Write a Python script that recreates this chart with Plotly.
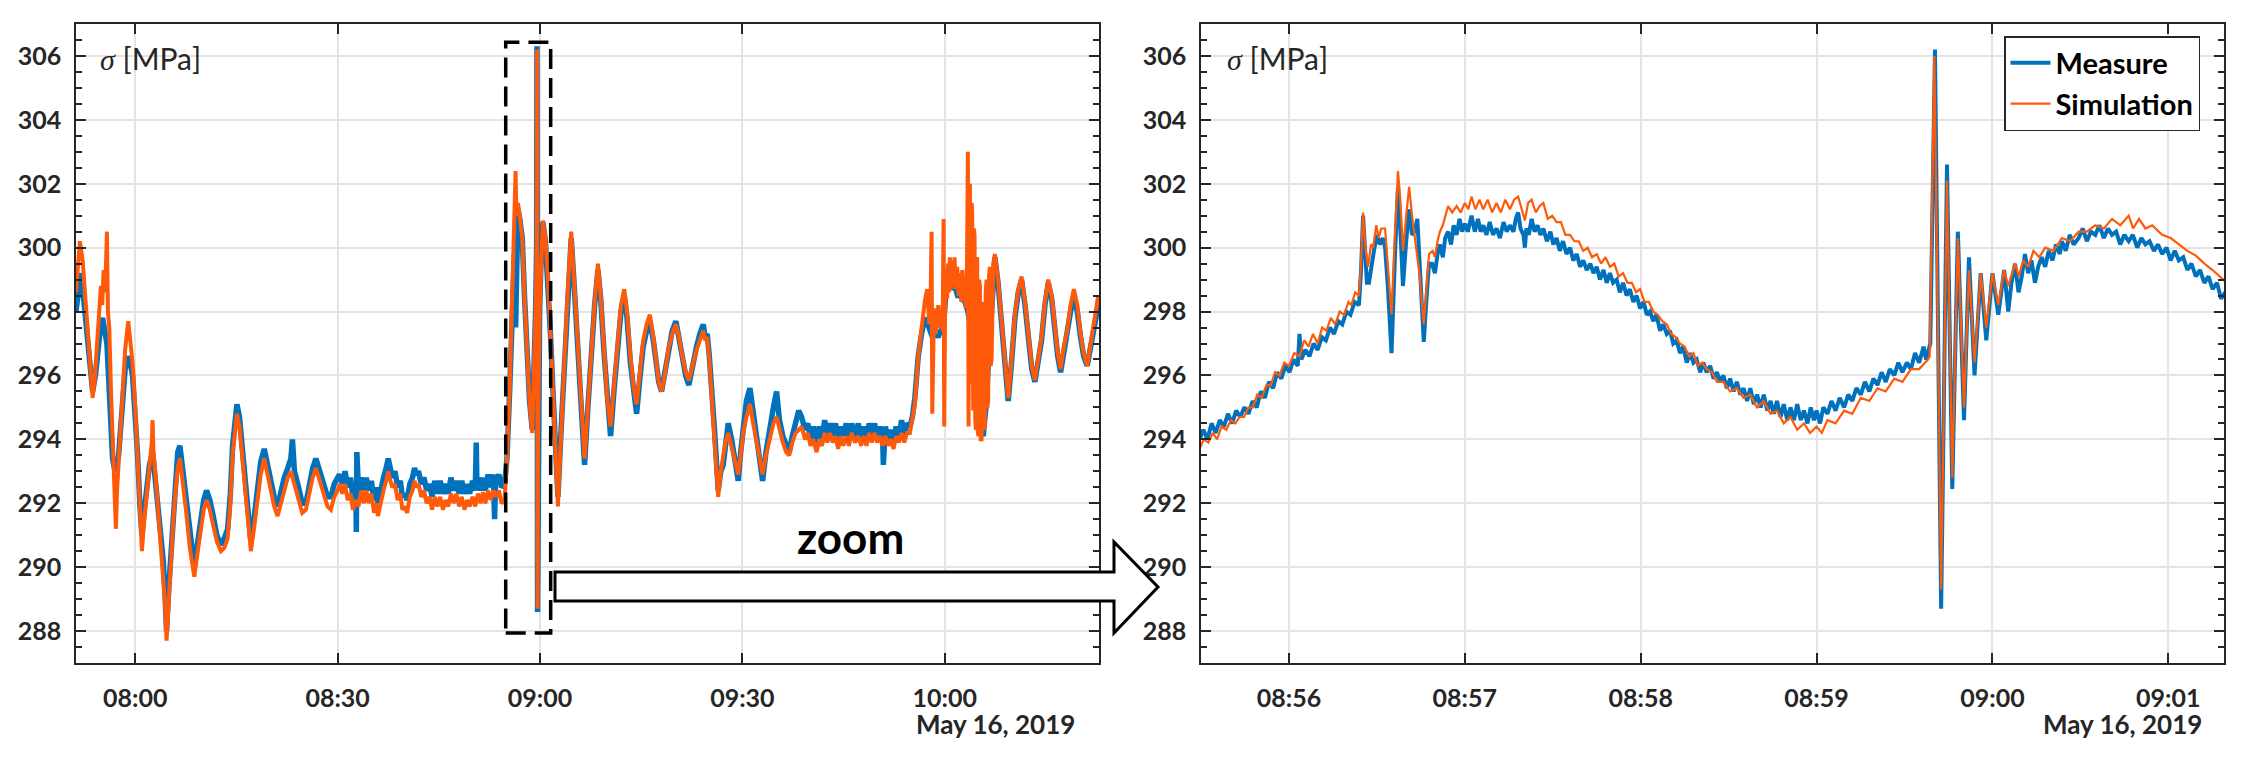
import pandas as pd
import plotly.graph_objects as go

# ---------------- data ----------------
DAY = "2019-05-16"
LEFT_BASE = "08:00:00"          # left panel offsets are minutes after this time
RIGHT_BASE = "08:56:00"         # right panel offsets are seconds after this time
LEFT_RANGE = ["07:51:13", "10:22:52"]
ZOOM_RANGE = ["08:55:30", "09:01:19"]
ZOOM_BOX = ["08:54:55", "09:01:35", 287.94, 306.43]
LEFT_TICKS = ["08:00", "08:30", "09:00", "09:30", "10:00"]
RIGHT_TICKS = ["08:56", "08:57", "08:58", "08:59", "09:00", "09:01"]
Y_RANGE = [287, 307]
Y_TICKS = [288, 290, 292, 294, 296, 298, 300, 302, 304, 306]
DATE_LABEL = "May 16, 2019"
SERIES_NAMES = ["Measure", "Simulation"]

# Left panel, Simulation: (minutes after 08:00, MPa)
left_sim = [
    (-8.8, 298.6), (-8.5, 299.6), (-8.2, 300.2), (-7.8, 299.6), (-7.4, 298.4), (-7.07, 297.5), (-6.7, 296.2),
    (-6.32, 295.3), (-6.0, 295.9), (-5.73, 296.8), (-5.4, 298.2), (-5.09, 298.8), (-4.9, 298.2), (-4.69, 299.3),
    (-4.45, 298.6), (-4.2, 300.5), (-4.05, 298.0), (-3.85, 297.5), (-3.6, 295.5), (-3.36, 294.0), (-3.1, 292.0),
    (-2.87, 291.2), (-2.7, 292.4), (-2.47, 293.3), (-2.2, 294.4), (-1.88, 295.5), (-1.5, 296.8), (-1.04, 297.7),
    (-0.75, 297.2), (-0.4, 296.4), (0.0, 295.0), (0.35, 293.5), (0.7, 291.6), (0.99, 290.5), (1.3, 291.4),
    (1.68, 292.2), (2.1, 293.2), (2.45, 293.9), (2.57, 294.6), (2.7, 293.6), (2.96, 293.0), (3.25, 292.2),
    (3.56, 291.4), (3.85, 290.6), (4.15, 289.8), (4.4, 288.9), (4.64, 287.7), (4.95, 289.0), (5.29, 290.2),
    (5.65, 291.5), (6.03, 292.5), (6.3, 293.1), (6.62, 293.4), (7.0, 292.8), (7.51, 291.8), (8.1, 290.6),
    (8.75, 289.7), (9.2, 290.4), (9.73, 291.2), (10.15, 291.8), (10.57, 292.1), (11.05, 291.8), (11.56, 291.3),
    (12.1, 290.8), (12.7, 290.5), (13.2, 290.6), (13.7, 290.9), (14.1, 292.0), (14.43, 293.5), (14.75, 294.3),
    (15.07, 294.8), (15.45, 294.4), (15.91, 293.4), (16.5, 291.8), (17.14, 290.5), (17.6, 291.2), (18.13, 292.2),
    (18.6, 292.9), (19.12, 293.4), (19.6, 292.9), (20.11, 292.4), (20.6, 291.9), (21.1, 291.6), (21.6, 292.0),
    (22.08, 292.5), (22.6, 292.8), (23.07, 293.0), (23.6, 292.6), (24.21, 292.1), (24.75, 291.7), (25.3, 291.8),
    (25.8, 292.3), (26.3, 292.8), (26.78, 293.1), (27.4, 292.7), (28.01, 292.3), (28.5, 291.9), (29.0, 291.8),
    (29.5, 292.2), (30.0, 292.4), (30.3, 292.6),
    (30.7, 292.3), (31.1, 292.6), (31.5, 292.1), (31.9, 292.3), (32.27, 291.8), (32.7, 292.1), (33.1, 291.9),
    (33.5, 292.4), (33.9, 292.0), (34.25, 292.4), (34.6, 292.0), (35.0, 292.3), (35.4, 291.7), (35.7, 292.0),
    (35.98, 291.6), (36.4, 292.1), (36.8, 292.4), (37.2, 292.7), (37.5, 293.0), (37.7, 292.8), (38.1, 292.5),
    (38.5, 292.6), (38.9, 292.1), (39.3, 292.3), (39.6, 291.8), (39.93, 291.9), (40.3, 291.7), (40.7, 292.2),
    (41.1, 292.4), (41.4, 292.7), (41.66, 292.5), (42.0, 292.6), (42.4, 292.2), (42.8, 292.4), (43.2, 292.0),
    (43.64, 292.2), (44.0, 291.8), (44.4, 292.2), (44.8, 291.9), (45.2, 292.2), (45.61, 291.8), (46.0, 292.1),
    (46.4, 291.9), (46.8, 292.3), (47.2, 292.0), (47.59, 292.3), (48.0, 291.9), (48.4, 292.2), (48.8, 291.8),
    (49.2, 292.1), (49.57, 291.9), (50.0, 292.2), (50.4, 291.9), (50.8, 292.3), (51.2, 292.0), (51.54, 292.35),
    (51.9, 292.0), (52.3, 292.4), (52.7, 292.1), (53.1, 292.4), (53.52, 292.2), (53.9, 292.4), (54.3, 292.0),
    (54.75, 292.1),
    (55.1, 293.4), (55.5, 295.5), (55.99, 299.8), (56.2, 301.0), (56.38, 302.4), (56.5, 301.0), (56.73, 301.4),
    (57.0, 301.0), (57.37, 300.3), (57.7, 298.5), (58.06, 296.7), (58.45, 295.2), (58.85, 294.2), (59.1, 295.8),
    (59.35, 298.0), (59.5, 300.0), (59.55, 306.2), (59.6, 297.0), (59.64, 288.7), (59.7, 294.0), (59.94, 298.0),
    (60.2, 300.0), (60.43, 300.85), (60.8, 300.3), (61.18, 299.05), (61.55, 297.3), (61.92, 295.5), (62.3, 293.5),
    (62.66, 291.9), (63.15, 294.3), (63.65, 296.7), (64.15, 298.8), (64.63, 300.5), (65.1, 298.8), (65.62, 296.7),
    (66.1, 294.8), (66.61, 293.4), (67.1, 295.0), (67.6, 296.7), (68.1, 298.3), (68.59, 299.5), (69.0, 298.5),
    (69.5, 296.8), (70.0, 295.2), (70.46, 294.4), (71.0, 295.8), (71.5, 297.2), (72.0, 298.2), (72.49, 298.7),
    (72.9, 298.0), (73.4, 296.6), (73.9, 295.6), (74.32, 295.1), (74.8, 296.2), (75.3, 297.1), (75.8, 297.6),
    (76.29, 297.9), (76.8, 297.2), (77.28, 296.4), (77.6, 295.8), (78.02, 295.5), (78.5, 296.0), (79.01, 296.8),
    (79.6, 297.3), (80.15, 297.6), (80.6, 297.2), (81.1, 296.6), (81.6, 296.1), (82.07, 295.85), (82.6, 296.3),
    (83.21, 296.8), (83.7, 297.1), (84.2, 297.4), (84.5, 297.1), (84.79, 297.2), (85.1, 296.5), (85.43, 295.5),
    (85.9, 294.0), (86.42, 292.2), (86.8, 293.0), (87.16, 293.5), (87.5, 293.9), (87.9, 294.2), (88.4, 293.8),
    (88.9, 293.3), (89.39, 292.9), (89.75, 293.5), (90.13, 294.2), (90.6, 294.7), (91.12, 295.1), (91.6, 294.5),
    (92.11, 293.9), (92.55, 293.3), (93.0, 292.9), (93.5, 293.5), (94.08, 294.1), (94.6, 294.5), (95.07, 294.7),
    (95.5, 294.3), (96.0, 293.9), (96.5, 293.6), (96.95, 293.5), (97.4, 293.9), (97.9, 294.2), (98.35, 294.3),
    (98.78, 294.4), (99.3, 294.0),
    (99.7, 294.2), (100.1, 293.8), (100.5, 294.0), (101.0, 293.6), (101.4, 294.0), (101.8, 293.8), (102.2, 294.2),
    (102.6, 293.9), (102.98, 294.2), (103.4, 293.9), (103.8, 294.1), (104.2, 293.7), (104.6, 294.1), (104.95, 293.8),
    (105.4, 294.1), (105.8, 293.8), (106.2, 294.2), (106.7, 293.9), (107.18, 294.1), (107.6, 293.8), (108.0, 294.1),
    (108.4, 293.8), (108.8, 294.2), (109.2, 293.9), (109.6, 294.2), (110.0, 293.9), (110.4, 294.1), (110.8, 293.8),
    (111.2, 294.1), (111.6, 293.8), (112.0, 294.0), (112.4, 293.7), (112.8, 294.1), (113.2, 293.9), (113.6, 294.2),
    (114.0, 293.9), (114.4, 294.2), (114.83, 294.2),
    (115.2, 294.6), (115.57, 295.1), (116.07, 296.6), (116.56, 297.6), (117.06, 298.35), (117.4, 298.7),
    (117.7, 297.6), (117.9, 298.4), (118.05, 300.5), (118.15, 294.8), (118.25, 297.8), (118.4, 298.1),
    (118.6, 297.3), (118.8, 297.6), (119.05, 298.2), (119.3, 297.5), (119.5, 298.0), (119.68, 297.4),
    (119.83, 300.9), (119.92, 294.4), (120.05, 298.0), (120.17, 299.3), (120.35, 298.4), (120.5, 299.5),
    (120.65, 298.6), (120.76, 299.7), (120.95, 298.7), (121.1, 299.6), (121.26, 298.8), (121.45, 299.7),
    (121.65, 298.7), (121.85, 299.4), (122.05, 298.5), (122.24, 299.2), (122.45, 298.3), (122.6, 299.3),
    (122.74, 298.6), (122.95, 299.0), (123.13, 298.1), (123.3, 299.5), (123.43, 303.0), (123.53, 294.4),
    (123.63, 301.5), (123.73, 302.0), (123.88, 295.75), (124.0, 301.4), (124.07, 301.0), (124.22, 294.9),
    (124.32, 300.6), (124.42, 300.4), (124.52, 294.6), (124.62, 294.3), (124.72, 299.6), (124.81, 299.7),
    (124.91, 294.2), (125.01, 294.1), (125.11, 299.0), (125.21, 298.8), (125.33, 294.0), (125.46, 294.0),
    (125.58, 298.3), (125.7, 298.2), (125.82, 294.3), (125.95, 294.4), (126.07, 298.6), (126.2, 299.0),
    (126.32, 295.0), (126.44, 295.2), (126.56, 299.1), (126.69, 299.4), (126.8, 296.3), (126.94, 296.5),
    (127.2, 299.5), (127.43, 299.8), (127.9, 299.0), (128.42, 297.8), (128.9, 296.4), (129.41, 295.3),
    (129.9, 296.5), (130.4, 297.9), (130.9, 298.7), (131.39, 299.1), (131.9, 298.3), (132.37, 297.2),
    (132.9, 296.3), (133.36, 295.85), (133.85, 296.5), (134.35, 297.2), (134.85, 298.3), (135.34, 299.0),
    (135.85, 298.5), (136.33, 297.4), (136.75, 296.7), (137.17, 296.2), (137.65, 296.9), (138.16, 297.4),
    (138.65, 298.2), (139.14, 298.7), (139.65, 298.2), (140.13, 297.3), (140.6, 296.7), (141.12, 296.3),
    (141.55, 296.9), (142.01, 297.5), (142.4, 298.1), (142.75, 298.5), (142.9, 298.4),
]

# Left panel, Measure: (minutes after 08:00, MPa)
left_meas = [
    (-8.8, 298.0), (-8.4, 298.8), (-8.05, 299.2), (-7.6, 298.3), (-7.07, 297.0), (-6.7, 296.0), (-6.32, 295.5),
    (-5.9, 296.0), (-5.5, 297.0), (-5.1, 297.6), (-4.84, 297.8), (-4.5, 297.3), (-4.2, 297.0), (-3.85, 295.5),
    (-3.6, 294.2), (-3.36, 293.4), (-3.1, 293.1), (-2.87, 293.0), (-2.47, 293.5), (-2.2, 294.4), (-1.88, 295.3),
    (-1.5, 296.2), (-1.04, 296.6), (-0.75, 296.4), (-0.4, 296.0), (0.0, 294.9), (0.35, 293.5), (0.7, 291.9),
    (0.99, 291.0), (1.3, 291.7), (1.68, 292.5), (2.1, 293.2), (2.57, 293.6), (2.96, 292.8), (3.25, 292.2),
    (3.56, 291.6), (3.85, 290.9), (4.15, 290.2), (4.4, 289.2), (4.64, 288.0), (4.95, 289.3), (5.29, 290.5),
    (5.65, 291.8), (6.03, 293.0), (6.3, 293.6), (6.62, 293.8), (7.0, 293.1), (7.51, 292.0), (8.1, 290.9),
    (8.75, 290.0), (9.2, 290.7), (9.73, 291.6), (10.15, 292.1), (10.57, 292.4), (11.05, 292.1), (11.56, 291.6),
    (12.1, 291.0), (12.7, 290.7), (13.2, 290.9), (13.7, 291.2), (14.1, 292.3), (14.43, 293.8), (14.75, 294.7),
    (15.07, 295.1), (15.45, 294.7), (15.91, 293.7), (16.5, 292.1), (17.14, 290.8), (17.6, 291.5), (18.13, 292.5),
    (18.6, 293.3), (19.12, 293.7), (19.6, 293.2), (20.11, 292.7), (20.6, 292.2), (21.1, 291.9), (21.6, 292.4),
    (22.08, 292.8), (22.6, 293.1), (23.07, 293.4), (23.3, 294.0), (23.6, 293.0), (24.21, 292.5), (24.75, 292.0),
    (25.3, 292.0), (25.8, 292.6), (26.3, 293.1), (26.78, 293.4), (27.4, 293.0), (28.01, 292.6), (28.5, 292.2),
    (29.0, 292.2), (29.5, 292.6), (30.0, 292.8), (30.3, 292.9),
    (30.7, 292.6), (31.1, 293.0), (31.5, 292.5), (31.9, 292.8), (32.27, 292.2), (32.7, 292.5), (32.77, 291.1),
    (32.85, 293.6), (33.1, 292.4), (33.5, 292.8), (33.9, 292.4), (34.25, 292.8), (34.6, 292.4), (35.0, 292.7),
    (35.4, 292.1), (35.7, 292.5), (35.98, 292.0), (36.4, 292.5), (36.8, 292.8), (37.2, 293.1), (37.5, 293.4),
    (37.7, 293.2), (38.1, 292.8), (38.5, 293.0), (38.9, 292.5), (39.3, 292.7), (39.6, 292.2), (39.93, 292.3),
    (40.3, 292.1), (40.7, 292.6), (41.1, 292.8), (41.4, 293.1), (41.66, 292.9), (42.0, 293.0), (42.4, 292.6),
    (42.8, 292.8), (43.2, 292.4), (43.64, 292.6), (44.0, 292.2), (44.4, 292.7), (44.8, 292.3), (45.2, 292.7),
    (45.61, 292.3), (46.0, 292.6), (46.4, 292.3), (46.8, 292.8), (47.2, 292.4), (47.59, 292.7), (48.0, 292.3),
    (48.4, 292.7), (48.8, 292.3), (49.2, 292.6), (49.57, 292.3), (50.0, 292.7), (50.4, 292.4), (50.55, 293.9),
    (50.65, 292.5), (50.8, 292.8), (51.2, 292.4), (51.54, 292.8), (51.9, 292.4), (52.3, 292.9), (52.7, 292.5),
    (53.1, 292.9), (53.27, 291.5), (53.4, 292.6), (53.9, 292.9), (54.3, 292.5), (54.75, 292.6),
    (55.1, 293.4), (55.5, 295.5), (55.99, 298.5), (56.2, 299.8), (56.38, 297.5), (56.5, 300.5), (56.73, 301.2),
    (57.0, 300.9), (57.37, 300.3), (57.7, 298.5), (58.06, 296.7), (58.45, 295.2), (58.85, 294.3), (59.1, 295.8),
    (59.35, 298.0), (59.5, 300.0), (59.55, 306.3), (59.6, 297.0), (59.64, 288.6), (59.7, 294.0), (59.94, 298.0),
    (60.2, 300.0), (60.43, 300.8), (60.8, 300.2), (61.18, 299.0), (61.55, 297.3), (61.92, 295.5), (62.3, 293.6),
    (62.66, 292.2), (63.15, 294.4), (63.65, 296.7), (64.15, 298.7), (64.63, 300.3), (65.1, 298.7), (65.62, 296.7),
    (66.1, 294.7), (66.61, 293.2), (67.1, 295.0), (67.6, 296.7), (68.1, 298.2), (68.59, 299.3), (69.0, 298.4),
    (69.5, 296.7), (70.0, 295.0), (70.46, 294.1), (71.0, 295.6), (71.5, 297.0), (72.0, 298.0), (72.49, 298.5),
    (72.9, 297.8), (73.4, 296.4), (73.9, 295.3), (74.32, 294.8), (74.8, 295.9), (75.3, 296.9), (75.8, 297.4),
    (76.29, 297.7), (76.8, 297.1), (77.28, 296.4), (77.6, 295.8), (78.02, 295.5), (78.5, 296.1), (79.01, 296.9),
    (79.6, 297.4), (80.15, 297.7), (80.6, 297.2), (81.1, 296.5), (81.6, 296.0), (82.07, 295.7), (82.6, 296.3),
    (83.21, 296.9), (83.7, 297.3), (84.2, 297.6), (84.5, 297.2), (84.79, 297.3), (85.1, 296.6), (85.43, 295.7),
    (85.9, 294.2), (86.42, 292.4), (86.8, 293.0), (87.16, 293.2), (87.5, 294.0), (87.9, 294.5), (88.4, 294.0),
    (88.9, 293.2), (89.39, 292.7), (89.75, 293.6), (90.13, 294.5), (90.6, 295.2), (91.12, 295.6), (91.6, 294.8),
    (92.11, 294.1), (92.55, 293.3), (93.0, 292.7), (93.5, 293.6), (94.08, 294.5), (94.6, 295.0), (95.07, 295.5),
    (95.5, 294.6), (96.0, 294.1), (96.5, 293.8), (96.95, 293.6), (97.4, 294.1), (97.9, 294.5), (98.35, 294.9),
    (98.78, 294.7), (99.3, 294.3),
    (99.7, 294.5), (100.1, 294.0), (100.5, 294.4), (101.0, 293.9), (101.4, 294.4), (101.8, 294.0), (102.2, 294.6),
    (102.6, 294.1), (102.98, 294.5), (103.4, 294.1), (103.8, 294.5), (104.2, 294.0), (104.6, 294.4), (104.95, 294.1),
    (105.4, 294.5), (105.8, 294.0), (106.2, 294.5), (106.7, 294.1), (107.18, 294.5), (107.6, 294.0), (108.0, 294.4),
    (108.4, 294.0), (108.8, 294.5), (109.2, 294.1), (109.6, 294.5), (110.0, 294.0), (110.4, 294.4), (110.8, 294.0),
    (110.9, 293.2), (111.0, 294.1), (111.2, 294.4), (111.6, 294.0), (112.0, 294.3), (112.4, 293.9), (112.8, 294.4),
    (113.2, 294.1), (113.6, 294.6), (114.0, 294.1), (114.4, 294.5), (114.83, 294.4),
    (115.2, 294.7), (115.57, 295.3), (116.07, 296.6), (116.56, 297.3), (117.06, 297.8), (117.5, 297.6),
    (118.0, 297.3), (118.5, 297.4), (119.0, 297.2), (119.4, 297.4), (119.8, 297.5), (120.17, 298.6), (120.5, 298.9),
    (120.76, 299.0), (121.1, 298.7), (121.5, 298.8), (121.9, 298.5), (122.24, 298.5), (122.6, 298.4), (123.0, 298.3),
    (123.43, 298.0), (123.7, 297.7), (124.0, 297.0), (124.5, 296.0), (125.0, 295.3), (125.4, 294.5), (125.7, 294.1),
    (126.1, 295.0), (126.5, 296.5), (127.0, 298.6), (127.43, 299.7), (127.9, 298.9), (128.42, 297.6), (128.9, 296.2),
    (129.41, 295.2), (129.9, 296.4), (130.4, 297.8), (130.9, 298.6), (131.39, 299.0), (131.9, 298.2), (132.37, 297.1),
    (132.9, 296.2), (133.36, 295.8), (133.85, 296.4), (134.35, 297.1), (134.85, 298.2), (135.34, 298.9),
    (135.85, 298.4), (136.33, 297.3), (136.75, 296.6), (137.17, 296.1), (137.65, 296.8), (138.16, 297.3),
    (138.65, 298.0), (139.14, 298.5), (139.65, 298.0), (140.13, 297.2), (140.6, 296.6), (141.12, 296.3),
    (141.55, 296.8), (142.01, 297.4), (142.4, 297.9), (142.75, 298.2), (142.9, 298.0),
]

# Right panel, Simulation: (seconds after 08:56:00, MPa)
right_sim = [
    (-30.5, 293.7), (-29, 294.0), (-27.5, 293.9), (-26, 294.2), (-24.5, 294.0), (-23, 294.4), (-21.4, 294.3),
    (-19.8, 294.6), (-18.3, 294.5), (-16.8, 294.7), (-15.3, 294.7), (-13.8, 295.0), (-12.3, 295.0), (-10.8, 295.4),
    (-9.3, 295.3), (-7.7, 295.7), (-6.2, 295.7), (-4.7, 296.1), (-3.2, 296.0), (-1.6, 296.4), (0, 296.3),
    (1.8, 296.7), (3.6, 296.6), (5.2, 297.1), (6.7, 296.9), (8.2, 297.3), (9.8, 297.0), (11.3, 297.5),
    (12.8, 297.4), (14.3, 297.8), (15.8, 297.6), (17.3, 298.0), (18.8, 297.9), (20.3, 298.3), (21.3, 298.2),
    (22.6, 298.6), (23.9, 298.5), (24.6, 299.5), (25.3, 301.1), (26.1, 300.0), (27.0, 299.4), (28.0, 300.1),
    (28.7, 300.0), (29.8, 300.7), (30.6, 300.3), (31.5, 300.6), (32.8, 300.6), (33.8, 299.5), (35.0, 297.9),
    (36.2, 300.5), (37.2, 302.4), (38.0, 301.5), (38.9, 299.9), (40.0, 301.0), (41.0, 301.9), (42.0, 301.0),
    (42.9, 300.4), (44.5, 299.2), (46.0, 297.6), (47.0, 298.8), (47.8, 299.8), (49.0, 299.9), (49.8, 299.7),
    (50.7, 300.2), (51.5, 300.5), (52.5, 300.7), (53.3, 301.0), (54.3, 301.3), (55.7, 301.1), (57.2, 301.3),
    (58.6, 301.1), (60.0, 301.4), (61.2, 301.2), (62.3, 301.6), (63.6, 301.2), (65.0, 301.5), (66.3, 301.2),
    (67.8, 301.5), (69.3, 301.1), (70.8, 301.4), (72.3, 301.1), (73.8, 301.5), (75.4, 301.2), (76.8, 301.5),
    (78.2, 301.6), (79.3, 301.2), (80.5, 300.85), (81.6, 301.4), (82.8, 301.5), (84.2, 301.1), (85.5, 301.3),
    (86.8, 301.4), (88.3, 300.9), (89.8, 301.0), (91.3, 300.8), (92.8, 300.8), (94.3, 300.4), (95.9, 300.4),
    (97.4, 300.2), (98.9, 300.2), (100.4, 299.9), (101.9, 300.0), (103.4, 299.7), (105.0, 299.8), (106.5, 299.5),
    (108.0, 299.7), (109.5, 299.4), (111.0, 299.5), (112.5, 299.1), (114.0, 299.2), (115.5, 298.9), (117.0, 298.9),
    (118.4, 298.6), (119.8, 298.7), (121.3, 298.3), (122.8, 298.3), (124.3, 298.0), (125.8, 297.9), (127.4, 297.7),
    (128.9, 297.6), (130.4, 297.3), (131.9, 297.2), (133.4, 297.0), (135.0, 296.9), (136.5, 296.6), (138.0, 296.7),
    (139.5, 296.3), (141.0, 296.4), (142.5, 296.2), (144.3, 296.1), (146.0, 295.8), (148.2, 295.8), (150.5, 295.5),
    (152.8, 295.6), (155.1, 295.3), (157.4, 295.4), (159.7, 295.0), (162.0, 295.2), (164.3, 294.8), (166.5, 294.9),
    (168.8, 294.5), (171.1, 294.7), (173.4, 294.3), (175.7, 294.5), (177.8, 294.2), (180.0, 294.4), (181.8, 294.2),
    (183.7, 294.6), (186.5, 294.5), (189.4, 294.9), (192.2, 294.8), (195.1, 295.3), (198.0, 295.2), (200.8, 295.6),
    (203.6, 295.5), (206.5, 295.9), (209.3, 295.8), (212.2, 296.2), (215.0, 296.2), (218.0, 296.5), (218.6, 296.6),
    (220.2, 306.0), (222.5, 289.3), (224.5, 302.1), (226.3, 292.8), (228.2, 300.3), (230.3, 295.0), (232.0, 299.3),
    (233.9, 296.4), (236.0, 299.2), (237.9, 297.5), (240.0, 299.2), (242.0, 298.2), (244.0, 299.3), (245.4, 298.8),
    (247.7, 299.5), (249.0, 299.1), (250.5, 299.6), (252.2, 299.4), (254.0, 299.9), (256.0, 299.7), (258.0, 300.0),
    (260.8, 299.9), (263.7, 300.3), (266.5, 300.2), (269.4, 300.5), (272.2, 300.5), (275.1, 300.7), (278.0, 300.6),
    (280.8, 300.9), (283.6, 300.7), (286.5, 301.0), (288.0, 300.6), (290.0, 300.9), (292.2, 300.6), (294.5, 300.7),
    (297.9, 300.4), (300.8, 300.3), (303.6, 300.1), (306.5, 299.9), (309.4, 299.75), (312.3, 299.5), (315.1, 299.3),
    (317.5, 299.1), (319.7, 298.9), (320.0, 298.9),
]

# Right panel, Measure: (seconds after 08:56:00, MPa)
right_meas = [
    (-30.5, 294.0), (-29.2, 294.3), (-27.8, 294.0), (-26.4, 294.5), (-25, 294.2), (-23.6, 294.6), (-22.2, 294.4),
    (-20.8, 294.8), (-19.4, 294.5), (-18, 294.9), (-16.6, 294.7), (-15.2, 295.0), (-13.8, 294.8), (-12.4, 295.2),
    (-11, 295.0), (-9.6, 295.5), (-8.2, 295.3), (-6.8, 295.8), (-5.4, 295.6), (-4, 296.1), (-2.6, 295.9),
    (-1.2, 296.3), (0.2, 296.1), (1.6, 296.5), (3.0, 296.3), (3.6, 297.3), (4.2, 296.5), (5.6, 296.8), (7.0, 296.6),
    (8.4, 297.0), (9.8, 296.8), (11.2, 297.2), (12.6, 297.1), (14.0, 297.5), (15.4, 297.3), (16.8, 297.7),
    (18.2, 297.6), (19.6, 298.0), (21.0, 297.9), (22.4, 298.3), (23.9, 298.2), (24.6, 299.3), (25.3, 301.0),
    (26.0, 299.8), (26.6, 298.9), (27.3, 298.9), (28.0, 299.4), (29.0, 299.9), (30.0, 300.4), (31.0, 300.1),
    (32.0, 300.3), (32.8, 300.0), (33.8, 298.7), (35.0, 296.7), (36.2, 299.8), (37.2, 301.9), (38.0, 300.6),
    (38.9, 298.8), (40.0, 300.2), (41.0, 301.2), (42.0, 300.4), (42.9, 300.5), (43.8, 300.9), (44.8, 299.3),
    (46.0, 297.05), (47.0, 298.5), (47.8, 299.5), (48.8, 299.5), (49.8, 299.2), (50.7, 299.8), (51.5, 300.1),
    (52.5, 299.7), (53.3, 300.3), (54.3, 300.5), (55.3, 300.1), (56.2, 300.7), (57.2, 300.4), (58.2, 300.9),
    (59.1, 300.5), (60.0, 300.75), (61.0, 300.5), (62.3, 301.0), (63.4, 300.5), (64.5, 300.9), (65.4, 300.5),
    (66.3, 300.7), (67.4, 300.4), (68.5, 300.8), (69.6, 300.4), (70.8, 300.6), (72.0, 300.3), (73.2, 300.8),
    (74.3, 300.5), (75.4, 300.7), (76.6, 300.5), (77.4, 300.9), (78.2, 301.1), (79.0, 300.6), (80.0, 300.4),
    (80.5, 300.0), (81.0, 300.6), (81.8, 300.4), (82.8, 300.9), (83.8, 300.5), (84.8, 300.7), (85.8, 300.4),
    (86.8, 300.6), (88.0, 300.2), (89.2, 300.5), (90.2, 300.1), (91.3, 300.3), (92.4, 299.9), (93.5, 300.2),
    (94.7, 299.8), (95.9, 300.0), (97.0, 299.6), (98.2, 299.8), (99.3, 299.4), (100.4, 299.6), (101.6, 299.3),
    (102.8, 299.5), (103.9, 299.2), (105.0, 299.4), (106.1, 299.0), (107.3, 299.3), (108.4, 298.9), (109.5, 299.2),
    (110.6, 298.9), (111.8, 299.0), (112.9, 298.6), (114.0, 298.9), (115.2, 298.5), (116.3, 298.7), (117.5, 298.3),
    (118.6, 298.5), (119.8, 298.1), (121.0, 298.3), (122.1, 297.9), (123.2, 298.0), (124.3, 297.7), (125.4, 297.9),
    (126.6, 297.4), (127.7, 297.6), (128.9, 297.3), (130.0, 297.4), (131.1, 297.0), (132.3, 297.1), (133.4, 296.7),
    (134.5, 296.9), (135.7, 296.4), (136.8, 296.7), (138.0, 296.4), (139.1, 296.5), (140.3, 296.1), (141.4, 296.4),
    (142.5, 296.1), (143.7, 296.3), (144.9, 295.9), (146.0, 296.1), (147.1, 295.8), (148.2, 296.0), (149.4, 295.6),
    (150.5, 295.9), (151.7, 295.5), (152.8, 295.8), (154.0, 295.4), (155.1, 295.6), (156.3, 295.2), (157.4, 295.6),
    (158.6, 295.1), (159.7, 295.4), (160.9, 295.0), (162.0, 295.4), (163.2, 294.9), (164.3, 295.2), (165.4, 294.8),
    (166.5, 295.2), (167.7, 294.7), (168.8, 295.1), (170.0, 294.6), (171.1, 295.0), (172.3, 294.6), (173.4, 295.1),
    (174.6, 294.6), (175.7, 294.9), (176.9, 294.5), (178.0, 295.0), (179.1, 294.6), (180.0, 294.9), (181.2, 294.5),
    (182.3, 295.0), (183.7, 294.8), (185.1, 295.2), (186.5, 294.9), (187.9, 295.3), (189.4, 295.0), (190.8, 295.4),
    (192.2, 295.2), (193.6, 295.6), (195.1, 295.4), (196.5, 295.8), (198.0, 295.5), (199.4, 295.9), (200.8, 295.7),
    (202.2, 296.1), (203.6, 295.8), (205.0, 296.2), (206.5, 296.0), (207.9, 296.4), (209.3, 296.1), (210.8, 296.4),
    (212.2, 296.2), (213.6, 296.7), (215.0, 296.4), (216.5, 296.9), (217.4, 296.5), (218.3, 296.9), (218.8, 297.0),
    (220.4, 306.2), (222.5, 288.7), (224.5, 302.6), (226.3, 292.45), (228.2, 300.5), (230.3, 294.6), (232.0, 299.7),
    (233.9, 296.0), (236.0, 299.2), (237.9, 297.1), (240.0, 299.2), (242.0, 297.9), (244.0, 299.3), (245.4, 298.0),
    (246.5, 298.9), (247.7, 299.5), (248.9, 298.6), (250.0, 299.1), (251.1, 299.8), (252.2, 299.2), (253.3, 299.6),
    (254.5, 298.9), (255.6, 299.4), (256.8, 299.7), (258.0, 299.4), (259.2, 299.9), (260.5, 299.6), (261.7, 300.1),
    (263.0, 299.8), (263.7, 300.2), (265.0, 299.9), (266.4, 300.4), (267.7, 300.1), (269.4, 300.3), (270.8, 300.6),
    (272.2, 300.2), (273.6, 300.5), (275.1, 300.4), (276.5, 300.7), (278.0, 300.3), (279.4, 300.6), (280.8, 300.4),
    (282.2, 300.5), (283.6, 300.1), (285.0, 300.4), (286.5, 300.2), (287.9, 300.4), (289.4, 300.0), (290.8, 300.3),
    (292.2, 300.1), (293.6, 300.2), (295.1, 299.9), (296.5, 300.1), (297.9, 299.8), (299.4, 300.0), (300.8, 299.6),
    (302.2, 299.9), (303.6, 299.6), (305.1, 299.7), (306.5, 299.3), (307.9, 299.5), (309.4, 299.1), (310.8, 299.3),
    (312.3, 298.9), (313.7, 299.1), (315.1, 298.7), (316.6, 298.9), (318.0, 298.4), (319.4, 298.6), (320.0, 298.3),
]

# ---------------- styling ----------------
W, H = 2256, 757
BLUE = "#0072BD"
ORANGE = "#FF5A0A"
AX = "#262626"
GRID = "#E4E4E4"
FONT = "Lato"


def ts(hms):
    return pd.Timestamp(f"{DAY} {hms}")


def to_time(pairs, base, unit):
    offs = [p[0] for p in pairs]
    vals = [p[1] for p in pairs]
    x = ts(base) + pd.to_timedelta(offs, unit=unit)
    return x, vals


fig = go.Figure()

lx, ly = to_time(left_meas, LEFT_BASE, "min")
fig.add_trace(go.Scatter(x=lx, y=ly, mode="lines", line=dict(color=BLUE, width=5.5),
                         xaxis="x", yaxis="y", showlegend=False, name=SERIES_NAMES[0]))
lx, ly = to_time(left_sim, LEFT_BASE, "min")
fig.add_trace(go.Scatter(x=lx, y=ly, mode="lines", line=dict(color=ORANGE, width=4),
                         xaxis="x", yaxis="y", showlegend=False, name=SERIES_NAMES[1]))
rx, ry = to_time(right_meas, RIGHT_BASE, "s")
fig.add_trace(go.Scatter(x=rx, y=ry, mode="lines", line=dict(color=BLUE, width=4),
                         xaxis="x2", yaxis="y2", name=SERIES_NAMES[0]))
rx, ry = to_time(right_sim, RIGHT_BASE, "s")
fig.add_trace(go.Scatter(x=rx, y=ry, mode="lines", line=dict(color=ORANGE, width=2.2),
                         xaxis="x2", yaxis="y2", name=SERIES_NAMES[1]))

tickfont = dict(family=FONT, size=25, color=AX, weight="bold")


def xaxis(domain, rng, ticks):
    return dict(domain=domain, type="date", range=[ts(r) for r in rng],
                tickvals=[ts(t + ":00") for t in ticks], tickformat="%H:%M",
                ticks="inside", ticklen=10, tickwidth=1.5, tickcolor=AX,
                showline=True, linecolor=AX, linewidth=1.5, mirror="ticks",
                showgrid=True, gridcolor=GRID, gridwidth=1.5, zeroline=False,
                tickfont=tickfont, ticklabelstandoff=12, fixedrange=True)


def yaxis(domain, anchor):
    return dict(domain=domain, anchor=anchor, range=Y_RANGE, tickvals=Y_TICKS,
                ticks="inside", ticklen=10, tickwidth=1.5, tickcolor=AX,
                minor=dict(dtick=0.5, tick0=287, ticks="inside", ticklen=6, tickwidth=1.5,
                           tickcolor=AX, showgrid=False),
                showline=True, linecolor=AX, linewidth=1.5, mirror="ticks",
                showgrid=True, gridcolor=GRID, gridwidth=1.5, zeroline=False,
                tickfont=tickfont, ticklabelstandoff=8, fixedrange=True)


ydom = [1 - 663 / H, 1 - 24 / H]
fig.update_layout(
    width=W, height=H, autosize=False,
    margin=dict(l=0, r=0, t=0, b=0),
    paper_bgcolor="white", plot_bgcolor="white",
    xaxis=dict(xaxis([76 / W, 1099 / W], LEFT_RANGE, LEFT_TICKS), anchor="y"),
    yaxis=yaxis(ydom, "x"),
    xaxis2=dict(xaxis([1201 / W, 2224 / W], ZOOM_RANGE, RIGHT_TICKS), anchor="y2"),
    yaxis2=yaxis(ydom, "x2"),
    legend=dict(x=2004 / W, y=1 - 36 / H, xanchor="left", yanchor="top",
                bgcolor="white", bordercolor=AX, borderwidth=1.5,
                font=dict(family=FONT, size=29, color="black", weight="bold"),
                tracegroupgap=0, itemwidth=40),
    showlegend=True,
)

# zoom window marker on the overview panel
fig.add_shape(type="rect", xref="x", yref="y",
              x0=ts(ZOOM_BOX[0]), x1=ts(ZOOM_BOX[1]), y0=ZOOM_BOX[2], y1=ZOOM_BOX[3],
              line=dict(color="black", width=3.5, dash="20px,9px"), layer="above")

# hollow arrow between the panels (paper pixels)
arrow_px = [(555, 572), (1114, 572), (1114, 542), (1158, 587), (1114, 633), (1114, 601), (555, 601)]
path = "M " + " L ".join(f"{x / W:.5f},{1 - y / H:.5f}" for x, y in arrow_px) + " Z"
fig.add_shape(type="path", xref="paper", yref="paper", path=path,
              line=dict(color="black", width=3), fillcolor="white", layer="above")

ann_font = dict(family=FONT, size=30, color=AX)
sigma = '<span style="font-family:Liberation Serif"><i>σ</i></span> [MPa]'
for xl in (98, 1225):
    fig.add_annotation(xref="paper", yref="paper", x=xl / W, y=1 - 58 / H,
                       xanchor="left", yanchor="middle", showarrow=False,
                       text=sigma, font=ann_font)
for xr in (1077, 2204):
    fig.add_annotation(xref="paper", yref="paper", x=xr / W, y=1 - 724 / H,
                       xanchor="right", yanchor="middle", showarrow=False,
                       text=DATE_LABEL, font=dict(tickfont, size=26))
fig.add_annotation(xref="paper", yref="paper", x=850 / W, y=1 - 537 / H,
                   xanchor="center", yanchor="middle", showarrow=False,
                   text="zoom", font=dict(family=FONT, size=44, color="black", weight="bold"))

fig.write_html("out.html", config=dict(displayModeBar=False),
               post_script="document.body.style.margin='0';")
